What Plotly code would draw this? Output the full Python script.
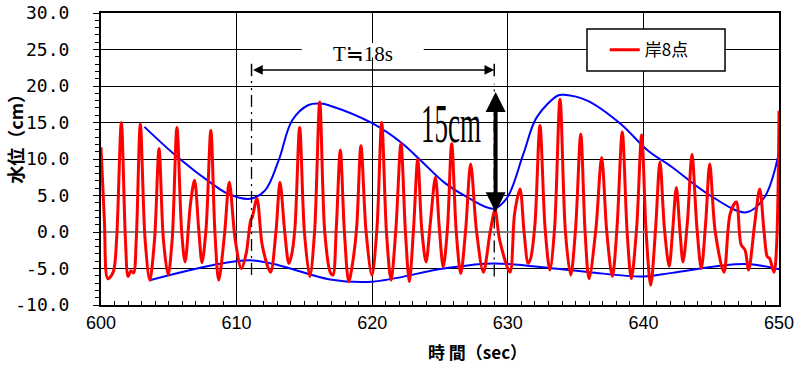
import plotly.graph_objects as go

# ---- data ----
red_t = [600.0, 600.25, 600.5, 600.9, 601.15, 601.5, 601.8, 602.0, 602.2, 602.4, 602.6, 602.9,
         603.25, 603.6, 603.95, 604.28, 604.6, 604.95, 605.25, 605.6, 605.95, 606.2, 606.6, 606.9,
         607.2, 607.45, 607.75, 608.1, 608.4, 608.68, 609.1, 609.46, 609.9, 610.35, 610.7, 611.05,
         611.15, 611.5, 611.9, 612.5, 612.9, 613.2, 613.55, 613.85, 614.05, 614.3, 614.65, 615.0,
         615.4, 615.75, 616.13, 616.5, 616.9, 617.1, 617.35, 617.65, 617.95, 618.27, 618.55, 618.85,
         619.17, 619.55, 619.98, 620.35, 620.7, 621.05, 621.39, 621.75, 622.12, 622.45, 622.74, 623.05,
         623.36, 623.65, 623.97, 624.3, 624.66, 624.95, 625.24, 625.55, 625.86, 626.2, 626.53, 626.9,
         627.26, 627.7, 628.2, 628.7, 629.06, 629.4, 630.16, 630.5, 630.9, 631.2, 631.5, 631.7,
         632.0, 632.37, 632.75, 633.1, 633.45, 633.85, 634.25, 634.64, 635.0, 635.38, 635.7, 635.99,
         636.5, 636.92, 637.3, 637.71, 638.05, 638.44, 638.8, 639.11, 639.5, 639.87, 640.2, 640.54,
         640.9, 641.22, 641.55, 641.9, 642.15, 642.43, 642.7, 642.92, 643.25, 643.58, 643.95, 644.27,
         644.6, 644.89, 645.3, 645.94, 646.4, 646.85, 647.2, 647.5, 647.76, 648.2, 648.58, 648.9,
         649.14, 649.3, 649.63, 650.0]
red_v = [11.6, 1.5, -6.4, -5.5, -1.0, 15.0, -1.0, -6.1, -5.3, -5.6, -1.0, 14.8,
         -1.0, -6.6, -1.0, 11.4, -1.0, -5.9, -1.0, 14.3, 0.0, -4.1, 3.9, 7.1,
         0.5, -4.2, 0.5, 13.9, 0.0, -6.6, -0.5, 6.8, -1.1, -5.0, -3.0, 1.7,
         2.0, 4.6, -1.9, -5.5, 0.0, 6.8, 0.0, -4.3, -3.2, 0.5, 14.3, 0.0,
         -6.1, 0.0, 17.8, 0.0, -5.5, -5.9, 0.5, 11.2, 0.0, -6.8, -4.3, 0.5,
         11.8, 0.0, -5.9, 0.5, 15.0, 0.0, -6.6, 0.5, 12.1, 0.0, -6.8, 0.5,
         10.0, 0.5, -4.1, 1.5, 7.5, 0.5, -4.8, 0.5, 12.1, 0.0, -5.7, 0.5,
         9.3, 0.0, -5.5, 0.0, 3.0, -1.1, -5.5, 2.5, 5.9, 0.0, -4.3, -3.5,
         1.0, 14.6, 0.5, -5.2, 0.5, 18.2, 0.0, -5.9, 0.5, 13.4, 0.0, -6.4,
         0.5, 10.2, 0.0, -6.1, 0.5, 13.7, 0.0, -6.4, 0.5, 13.3, 0.0, -7.3,
         0.5, 9.6, 0.5, -4.7, 0.0, 6.1, 0.0, -4.1, 1.5, 10.6, 0.5, -5.0,
         1.5, 9.3, 0.0, -5.5, 2.5, 4.1, -1.7, -2.5, -5.2, 1.0, 5.9, 0.0,
         -3.4, -3.6, -5.5, 16.6]

upper_t = [603.2, 605.68, 608.2, 609.4, 611.0, 612.1, 613.1, 614.1, 615.3, 616.2, 616.9, 620.0,
           622.24, 623.47, 625.3, 626.97, 628.93, 629.92, 631.15, 632.13, 633.7, 634.15, 635.86,
           638.33, 640.3, 642.1, 644.76, 647.6, 648.94, 650.0]
upper_v = [14.4, 10.2, 6.6, 5.2, 4.55, 5.7, 9.8, 15.3, 17.4, 17.6, 17.3, 14.9,
           12.1, 10.0, 6.8, 4.8, 3.2, 4.6, 10.7, 15.7, 18.7, 18.8, 18.0,
           14.8, 11.2, 8.9, 5.2, 2.7, 4.8, 10.9]

lower_t = [603.6, 608.2, 611.0, 613.1, 616.9, 620.0, 625.3, 628.93, 633.4, 636.0, 640.04, 642.1,
           647.47, 650.0]
lower_v = [-6.6, -4.55, -3.87, -4.55, -6.5, -6.8, -5.0, -4.3, -5.0, -5.5, -6.1, -5.6,
           -4.4, -5.1]

y_ticks = [-10, -5, 0, 5, 10, 15, 20, 25, 30]
y_ticktext = ["-10.0", "-5.0", "0.0", "5.0", "10.0", "15.0", "20.0", "25.0", "30.0"]
x_ticks = [600, 610, 620, 630, 640, 650]

legend_name = "岸8点"
y_title = "水位（cm）"
x_title = "時 間（sec）"
period_label = "T<span style='font-family:Noto Sans CJK JP'>≒</span>18s"
height_label = "15cm"

t_start, t_end = 611.1, 629.0      # period markers
arrow_y = 22.2
h_x, h_top, h_bot = 629.1, 19.4, 2.7

fig = go.Figure()
fig.add_trace(go.Scatter(x=upper_t, y=upper_v, mode="lines", line=dict(color="#0000FF", width=2, shape="spline"),
                         showlegend=False, hoverinfo="skip"))
fig.add_trace(go.Scatter(x=lower_t, y=lower_v, mode="lines", line=dict(color="#0000FF", width=2, shape="spline"),
                         showlegend=False, hoverinfo="skip"))
fig.add_trace(go.Scatter(x=red_t, y=red_v, mode="lines", name=legend_name,
                         line=dict(color="#FF0000", width=3, shape="spline", smoothing=0.9)))

# dash-dot period markers
for tx, y0, y1 in [(t_start, -5.9, 20.7), (t_end, -6.1, 20.3)]:
    fig.add_shape(type="line", x0=tx, x1=tx, y0=y0, y1=y1, xref="x", yref="y",
                  line=dict(color="black", width=1.3, dash="12px,5px,2px,5px"), layer="above")
# end bars of horizontal arrow
for tx in [t_start, t_end]:
    fig.add_shape(type="line", x0=tx, x1=tx, y0=arrow_y - 0.85, y1=arrow_y + 0.85,
                  line=dict(color="black", width=1.5))
# white box behind the period label
fig.add_shape(type="rect", x0=614.8, x1=623.8, y0=23.9, y1=25.9, fillcolor="white",
              line=dict(width=0), layer="above")
# legend frame
fig.add_shape(type="rect", xref="paper", yref="paper", x0=0.7168, x1=0.9204, y0=0.8014, y1=0.9452,
              fillcolor="white", line=dict(color="black", width=1.5), layer="above")

fig.add_annotation(x=t_end, y=arrow_y, ax=t_start, ay=arrow_y, xref="x", yref="y", axref="x", ayref="y",
                   text="", showarrow=True, arrowhead=2, arrowside="end+start", arrowsize=1.3,
                   arrowwidth=1.5, arrowcolor="black", standoff=0, startstandoff=0)
fig.add_annotation(x=619.3, y=24.6, xref="x", yref="y", text=period_label, showarrow=False,
                   font=dict(family="Liberation Serif", size=21, color="black"))
fig.add_annotation(x=h_x, y=h_bot, ax=h_x, ay=h_top, xref="x", yref="y", axref="x", ayref="y",
                   text="", showarrow=True, arrowhead=2, arrowside="end+start", arrowsize=1.0,
                   arrowwidth=4, arrowcolor="black", standoff=0, startstandoff=0)
fig.add_annotation(x=625.8, y=14.85, xref="x", yref="y", text=height_label, showarrow=False,
                   font=dict(family="Liberation Serif", size=54, color="black"))

# axis titles
fig.add_annotation(x=-0.127, y=0.586, xref="paper", yref="paper", text=y_title, textangle=-90,
                   xanchor="center", yanchor="middle",
                   showarrow=False, font=dict(family="Noto Sans CJK JP", size=18, color="black", weight=700))
fig.add_annotation(x=0.556, y=-0.158, xref="paper", yref="paper", text=x_title, yanchor="middle",
                   xanchor="center",
                   showarrow=False, font=dict(family="Noto Sans CJK JP", size=17, color="black", weight=700))

fig.update_xaxes(range=[600, 650], tickvals=x_ticks, showgrid=True, gridcolor="black", gridwidth=1,
                 showline=True, linecolor="black", linewidth=2, mirror=True, zeroline=False,
                 ticks="inside", ticklen=4, tickcolor="black", automargin=False,
                 minor=dict(dtick=1, ticks="inside", ticklen=4, tickcolor="black", showgrid=False),
                 tickfont=dict(family="Liberation Sans", size=18, color="black"))
fig.update_yaxes(range=[-10, 30], tickvals=y_ticks, ticktext=y_ticktext, showgrid=True, gridcolor="black",
                 gridwidth=1, showline=True, linecolor="black", linewidth=2, mirror=True,
                 zeroline=True, zerolinecolor="#808080", zerolinewidth=2, automargin=False,
                 ticks="outside", ticklen=6, tickcolor="black", ticklabelstandoff=20,
                 minor=dict(dtick=1, ticks="outside", ticklen=4, tickcolor="black", showgrid=False),
                 tickfont=dict(family="DejaVu Sans Mono", size=18, color="black"))

fig.update_layout(width=797, height=365, margin=dict(l=101, r=18, t=13, b=60, autoexpand=False),
                  plot_bgcolor="white", paper_bgcolor="white",
                  legend=dict(x=0.743, y=0.873, xanchor="left", yanchor="middle", bgcolor="rgba(0,0,0,0)",
                              borderwidth=0,
                              font=dict(family="Noto Sans CJK JP", size=17, color="black")))

post = """
document.documentElement.style.margin = '0';
document.body.style.margin = '0';
document.body.style.padding = '0';
var gd = document.getElementById('{plot_id}');
function squeeze(){
  gd.querySelectorAll('text.annotation-text').forEach(function(t){
    if (t.textContent === '15cm') {
      t.style.transformBox = 'fill-box';
      t.style.transformOrigin = 'center';
      t.style.transform = 'scaleX(0.5)';
    }
  });
}
squeeze();
gd.on('plotly_afterplot', squeeze);
"""
fig.write_html("out.html", post_script=post, config={"displayModeBar": False})
